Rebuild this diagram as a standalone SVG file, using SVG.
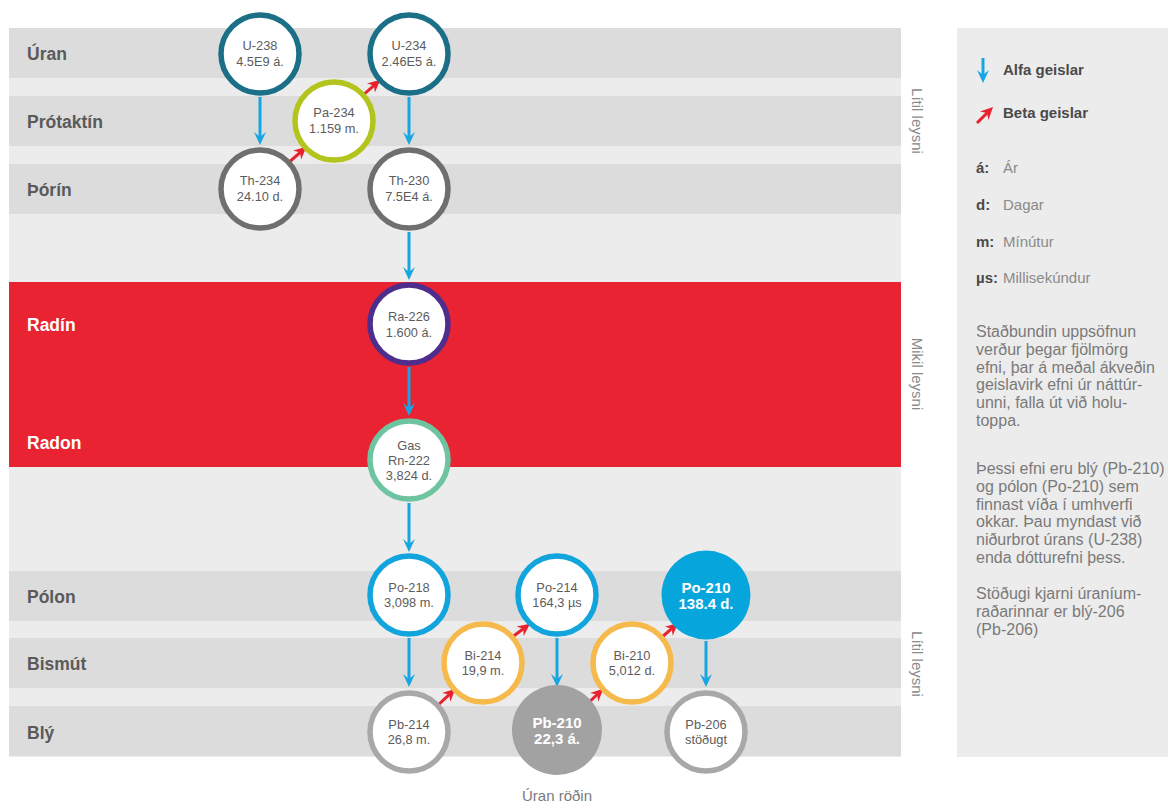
<svg xmlns="http://www.w3.org/2000/svg" width="1168" height="805" viewBox="0 0 1168 805">
<style>
.bandL{fill:#ececec}
.bandD{fill:#dcdcdc}
.row{font-family:"Liberation Sans",Arial,sans-serif;font-size:17.5px;font-weight:bold;fill:#5a5a5a}
.rowW{fill:#ffffff}
.side{font-family:"Liberation Sans",Arial,sans-serif;font-size:15px;fill:#8a8a8a;text-anchor:middle;dominant-baseline:central}
.ring{fill:#ffffff;stroke-width:5.5}
.nt{font-family:"Liberation Sans",Arial,sans-serif;font-size:12.8px;fill:#5c5c5c;text-anchor:middle}
.ntB{font-family:"Liberation Sans",Arial,sans-serif;font-size:15px;font-weight:bold;fill:#ffffff;text-anchor:middle}
.alpha{stroke:#18a6e3;stroke-width:3;fill:none;marker-end:url(#ahA)}
.beta{stroke:#e8212f;stroke-width:3;fill:none;marker-end:url(#ahB)}
.lgB{font-family:"Liberation Sans",Arial,sans-serif;font-size:15px;font-weight:bold;fill:#4a4a4a}
.lgR{font-family:"Liberation Sans",Arial,sans-serif;font-size:15px;fill:#8a8a8a}
.para{font-family:"Liberation Sans",Arial,sans-serif;font-size:16px;fill:#7a7a7a}
.title{font-family:"Liberation Sans",Arial,sans-serif;font-size:15px;fill:#7a7a7a;text-anchor:middle}
</style>
<defs>
<marker id="ahA" markerUnits="userSpaceOnUse" viewBox="-8 -7 15 14" refX="0" refY="0" markerWidth="15" markerHeight="14" orient="auto">
<path d="M6,0 L-7,-6 L-2,0 L-7,6 Z" fill="#18a6e3"/>
</marker>
<marker id="ahB" markerUnits="userSpaceOnUse" viewBox="-8 -7 15 14" refX="0" refY="0" markerWidth="15" markerHeight="14" orient="auto">
<path d="M6,0 L-6.5,-6 L-2.5,0 L-6.5,6 Z" fill="#e8212f"/>
</marker>
</defs>

<g id="background">
<rect class="bandL" x="9" y="28" width="892" height="729"/>
<rect class="bandD" x="9" y="28" width="892" height="50"/>
<rect class="bandD" x="9" y="96" width="892" height="50"/>
<rect class="bandD" x="9" y="164" width="892" height="50"/>
<rect x="9" y="282" width="892" height="185" fill="#e92331"/>
<rect class="bandD" x="9" y="571" width="892" height="50"/>
<rect class="bandD" x="9" y="638" width="892" height="50"/>
<rect class="bandD" x="9" y="706" width="892" height="50"/>
</g>

<g id="row-labels">
<text class="row" x="27" y="60">Úran</text>
<text class="row" x="27" y="128">Prótaktín</text>
<text class="row" x="27" y="196">Þórín</text>
<text class="row rowW" x="27" y="331">Radín</text>
<text class="row rowW" x="27" y="449">Radon</text>
<text class="row" x="27" y="603">Pólon</text>
<text class="row" x="27" y="670">Bismút</text>
<text class="row" x="27" y="739">Blý</text>
</g>

<g id="side-labels">
<text class="side" transform="translate(917,121) rotate(90)">Lítil leysni</text>
<text class="side" transform="translate(917,374) rotate(90)">Mikil leysni</text>
<text class="side" transform="translate(917,664) rotate(90)">Lítil leysni</text>
</g>

<g id="connectors">
<line class="alpha" x1="260" y1="97" x2="260" y2="139"/>
<line class="alpha" x1="409" y1="97" x2="409" y2="139"/>
<line class="alpha" x1="409" y1="232" x2="409" y2="274"/>
<line class="alpha" x1="409" y1="367" x2="409" y2="410"/>
<line class="alpha" x1="409" y1="503" x2="409" y2="546"/>
<line class="alpha" x1="409" y1="638" x2="409" y2="681"/>
<line class="alpha" x1="557" y1="638" x2="557" y2="681"/>
<line class="alpha" x1="706" y1="641" x2="706" y2="681"/>
<line class="beta" x1="287" y1="164" x2="302" y2="150.8"/>
<line class="beta" x1="362" y1="96" x2="375.8" y2="83.8"/>
<line class="beta" x1="436" y1="707" x2="451" y2="692.8"/>
<line class="beta" x1="511" y1="638" x2="525.3" y2="627.3"/>
<line class="beta" x1="585" y1="706" x2="598.9" y2="692.9"/>
<line class="beta" x1="661" y1="638" x2="673.6" y2="626.9"/>
</g>

<g id="node-U238"><circle class="ring" cx="260" cy="54" r="39" stroke="#1b6f86"/><text class="nt" x="260" y="50">U-238</text><text class="nt" x="260" y="66">4.5E9 á.</text></g>
<g id="node-U234"><circle class="ring" cx="409" cy="54" r="39" stroke="#1b6f86"/><text class="nt" x="409" y="50">U-234</text><text class="nt" x="409" y="66">2.46E5 á.</text></g>
<g id="node-Pa234"><circle class="ring" cx="334" cy="121" r="39" stroke="#b3c51c"/><text class="nt" x="334" y="117">Pa-234</text><text class="nt" x="334" y="133">1.159 m.</text></g>
<g id="node-Th234"><circle class="ring" cx="260" cy="189" r="39" stroke="#6f6f6f"/><text class="nt" x="260" y="185">Th-234</text><text class="nt" x="260" y="201">24.10 d.</text></g>
<g id="node-Th230"><circle class="ring" cx="409" cy="189" r="39" stroke="#6f6f6f"/><text class="nt" x="409" y="185">Th-230</text><text class="nt" x="409" y="201">7.5E4 á.</text></g>
<g id="node-Ra226"><circle class="ring" cx="409" cy="324" r="39" stroke="#4f2d8d"/><text class="nt" x="409" y="321">Ra-226</text><text class="nt" x="409" y="337">1.600 á.</text></g>
<g id="node-Rn222"><circle class="ring" cx="409" cy="460" r="39" stroke="#6ec4a1"/><text class="nt" x="409" y="450">Gas</text><text class="nt" x="409" y="465">Rn-222</text><text class="nt" x="409" y="480">3,824 d.</text></g>
<g id="node-Po218"><circle class="ring" cx="409" cy="595" r="39" stroke="#12a4dc"/><text class="nt" x="409" y="592">Po-218</text><text class="nt" x="409" y="607">3,098 m.</text></g>
<g id="node-Po214"><circle class="ring" cx="557" cy="595" r="39" stroke="#12a4dc"/><text class="nt" x="557" y="592">Po-214</text><text class="nt" x="557" y="607">164,3 µs</text></g>
<g id="node-Po210"><circle cx="706" cy="595" r="44.5" fill="#06a6dc"/><text class="ntB" x="706" y="593">Po-210</text><text class="ntB" x="706" y="609">138.4 d.</text></g>
<g id="node-Bi214"><circle class="ring" cx="483" cy="663" r="39" stroke="#f6b94c"/><text class="nt" x="483" y="660">Bi-214</text><text class="nt" x="483" y="675">19,9 m.</text></g>
<g id="node-Bi210"><circle class="ring" cx="632" cy="663" r="39" stroke="#f6b94c"/><text class="nt" x="632" y="660">Bi-210</text><text class="nt" x="632" y="675">5,012 d.</text></g>
<g id="node-Pb214"><circle class="ring" cx="409" cy="732" r="39" stroke="#a8a8a8"/><text class="nt" x="409" y="729">Pb-214</text><text class="nt" x="409" y="744">26,8 m.</text></g>
<g id="node-Pb210"><circle cx="557" cy="730" r="45" fill="#a3a2a2"/><text class="ntB" x="557" y="728">Pb-210</text><text class="ntB" x="557" y="744">22,3 á.</text></g>
<g id="node-Pb206"><circle class="ring" cx="706" cy="732" r="39" stroke="#a8a8a8"/><text class="nt" x="706" y="729">Pb-206</text><text class="nt" x="706" y="744">stöðugt</text></g>

<text class="title" x="557" y="801">Úran röðin</text>

<g id="legend">
<rect x="957" y="28" width="211" height="729" fill="#ececec"/>
<line class="alpha" x1="983" y1="58" x2="983" y2="77"/>
<text class="lgB" x="1003" y="75">Alfa geislar</text>
<line class="beta" x1="977" y1="123" x2="988.8" y2="111.2"/>
<text class="lgB" x="1003" y="118">Beta geislar</text>
<text class="lgB" x="976" y="173">á:</text><text class="lgR" x="1003" y="173">Ár</text>
<text class="lgB" x="976" y="210">d:</text><text class="lgR" x="1003" y="210">Dagar</text>
<text class="lgB" x="976" y="247">m:</text><text class="lgR" x="1003" y="247">Mínútur</text>
<text class="lgB" x="976" y="283">µs:</text><text class="lgR" x="1003" y="283">Millisekúndur</text>
<text class="para" x="976" y="337">Staðbundin uppsöfnun</text>
<text class="para" x="976" y="355">verður þegar fjölmörg</text>
<text class="para" x="976" y="372.5">efni, þar á meðal ákveðin</text>
<text class="para" x="976" y="390">geislavirk efni úr náttúr-</text>
<text class="para" x="976" y="408">unni, falla út við holu-</text>
<text class="para" x="976" y="425.5">toppa.</text>
<text class="para" x="976" y="474">Þessi efni eru blý (Pb-210)</text>
<text class="para" x="976" y="492">og pólon (Po-210) sem</text>
<text class="para" x="976" y="509.5">finnast víða í umhverfi</text>
<text class="para" x="976" y="527">okkar. Þau myndast við</text>
<text class="para" x="976" y="545">niðurbrot úrans (U-238)</text>
<text class="para" x="976" y="562.5">enda dótturefni þess.</text>
<text class="para" x="976" y="599">Stöðugi kjarni úraníum-</text>
<text class="para" x="976" y="617">raðarinnar er blý-206</text>
<text class="para" x="976" y="634.5">(Pb-206)</text>
</g>
</svg>
